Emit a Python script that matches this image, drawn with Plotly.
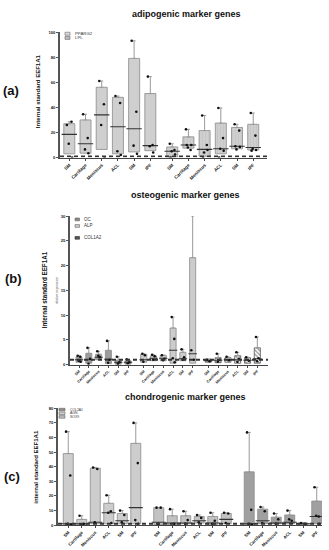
import plotly.graph_objects as go

W, H = 329, 550
FONT = "Liberation Sans, Arial, sans-serif"

# ---------------- data ----------------
sites = ["SM", "Cartilage", "Meniscus", "ACL", "SM", "IPF"]

# (a) adipogenic
pparg2_low = [3, 3.5, 6.5, 3, 4.5, 5.5]
pparg2_med = [18.5, 11, 34, 24.5, 23, 9.5]
pparg2_high = [27, 30, 56, 48, 79, 51]
pparg2_top = [28.5, 34.5, 61, 49, 93, 64.5]
pparg2_pts = [[26, 28.5, 11, 0], [34.5, 15.5, 6.5, 3.5], [61, 42.5, 26, 0],
              [49, 43.5, 5, 2], [93, 36.5, 9.5, 3], [64.5, 10, 9, 4]]

lpl_low = [0.5, 7.5, 1, 3, 7, 6]
lpl_med = [5, 10, 6.5, 7, 9, 8]
lpl_high = [8.5, 16.5, 21.5, 27.5, 24, 26.5]
lpl_top = [11, 22.5, 33.5, 39.5, 26.5, 35.5]
lpl_pts = [[11, 6, 5, 2.5, 0], [22.5, 6, 8, 10, 10], [33.5, 10, 4, 6, 0],
           [39.5, 15.5, 7, 5.5, 0], [26.5, 21.5, 6.5, 8.5, 9], [35.5, 17.5, 7, 6, 5.5]]

# (b) osteogenic
oc_low = [0.5, 0.3, 1.0, 0.2, 0.1, 0.1]
oc_med = [1.0, 1.0, 1.5, 1.1, 0.5, 0.5]
oc_high = [1.6, 2.3, 2.1, 2.9, 0.9, 0.8]
oc_top = [1.8, 3.4, 2.7, 4.8, 1.6, 1.1]
oc_pts = [[1.8, 1.6, 0.8, 0.6], [3.4, 1.2, 0.2], [2.7, 1.5, 1.8],
          [4.8, 1.0, 0.4], [1.6, 0.5, 0.2], [1.1, 0.5, 0.3]]

alp_low = [0.5, 0.8, 0.8, 0.3, 0.8, 0.3]
alp_med = [1.0, 1.3, 1.3, 2.9, 1.2, 2.2]
alp_high = [2.1, 1.8, 1.9, 7.4, 2.5, 21.6]
alp_top = [2.2, 2.0, 1.9, 9.6, 3.1, 30]
alp_pts = [[2.2, 1.9, 0.6], [2.0, 1.7, 1.0], [1.9, 1.2, 0.9],
           [9.6, 5.2, 1.3, 0.5], [3.1, 1.5, 1.0], [2.9, 1.0]]

col1a2_low = [0.5, 0.4, 0.5, 0.3, 0.3, 0.3]
col1a2_med = [0.8, 0.9, 1.0, 1.0, 0.9, 1.2]
col1a2_high = [1.1, 1.4, 1.4, 1.8, 1.4, 3.4]
col1a2_top = [1.1, 2.2, 1.6, 2.5, 1.5, 5.6]
col1a2_pts = [[1.0, 0.7], [2.2, 1.0, 0.6], [1.6, 0.9], [2.5, 1.2, 0.6],
              [1.5, 0.8], [5.6, 1.3, 0.7]]

# (c) chondrogenic
col2a1_low = [0.5, 0.5, 1, 1, 1, 1]
col2a1_med = [1, 1, 2, 8.5, 3, 12]
col2a1_high = [49, 4, 39, 15, 8, 56]
col2a1_top = [64, 6.5, 39.5, 20.5, 10, 70]
col2a1_pts = [[64, 34, 1, 0.5], [6.5, 1, 0.5], [39.5, 38.5, 2],
              [20.5, 9.5, 8.5, 1.5], [10, 7, 2], [70, 42.5, 3.5, 1]]

agn_low = [0.5, 0.5, 1, 1.5, 0.5, 1]
agn_med = [2, 1.5, 1.5, 3, 1.5, 4]
agn_high = [12, 6.5, 6.5, 6, 6, 8]
agn_top = [12, 11, 9.5, 7, 8.5, 8.5]
agn_pts = [[12, 12, 1], [11, 1], [9.5, 3.5, 1], [7, 5, 2], [8.5, 3, 1], [8.5, 8, 1.5]]

sox9_low = [0.5, 1, 1, 1, 0.5, 1]
sox9_med = [1, 3, 1.5, 2, 1, 6]
sox9_high = [36.5, 11, 5.5, 7, 1.5, 16.5]
sox9_top = [63.5, 12.5, 8, 10, 1.5, 26]
sox9_pts = [[63.5, 10.5, 1, 0.5], [12.5, 9.5, 1.5], [8, 4, 1], [10, 3, 4],
            [1.5, 1], [26, 6, 6.5, 1]]

y_ticks_a = [0, 20, 40, 60, 80, 100]
y_ticks_b = [0, 5, 10, 15, 20, 25, 30]
y_ticks_c = [0, 10, 20, 30, 40, 50, 60, 70, 80]
ref_level = 1

# ---------------- helpers ----------------
def px_x(p):
    return p / W

def px_y(p):
    return 1 - p / H

fig = go.Figure()
JIT = [-0.22, 0.2, -0.05, 0.26, -0.15]


def add_group(ax, offset, low, med, high, top, pts, width, fill, line_col="#8a8a8a",
              pattern=None, box_px=10):
    xs = [i + offset for i in range(len(low))]
    xa, ya = ("x" if ax == 1 else f"x{ax}"), ("y" if ax == 1 else f"y{ax}")
    marker = dict(color=fill, line=dict(color=line_col, width=0.8))
    if pattern:
        marker["pattern"] = pattern
    fig.add_trace(go.Bar(
        x=xs, y=[h - l for h, l in zip(high, low)], base=low, width=width,
        marker=marker, xaxis=xa, yaxis=ya, showlegend=False,
        error_y=dict(type="data", symmetric=False,
                     array=[t - h for t, h in zip(top, high)],
                     arrayminus=[0] * len(low), color="#9a9a9a",
                     thickness=1, width=1.5),
    ))
    fig.add_trace(go.Scatter(
        x=xs, y=med, mode="markers", xaxis=xa, yaxis=ya, showlegend=False,
        marker=dict(symbol="line-ew", size=box_px, line=dict(color="#333333", width=1.1)),
    ))
    px_, py_ = [], []
    for i, p in enumerate(pts):
        for j, v in enumerate(p):
            px_.append(xs[i] + JIT[j % len(JIT)] * width)
            py_.append(v)
    fig.add_trace(go.Scatter(
        x=px_, y=py_, mode="markers", xaxis=xa, yaxis=ya, showlegend=False,
        marker=dict(symbol="circle", size=2.6, color="#111111"),
    ))
    return xs


# ---------------- panel (a) ----------------
wa = 0.68
xa1 = add_group(1, 0, pparg2_low, pparg2_med, pparg2_high, pparg2_top, pparg2_pts,
                wa, "#cfcfcf", box_px=11)
xa2 = add_group(1, 6.35, lpl_low, lpl_med, lpl_high, lpl_top, lpl_pts, wa, "#cfcfcf",
                pattern=dict(shape="|", fgcolor="#b5b5b5", size=3, solidity=0.2), box_px=11)

# ---------------- panel (b) ----------------
wb = 0.62
xb1 = add_group(2, 0, oc_low, oc_med, oc_high, oc_top, oc_pts, wb, "#9c9c9c", box_px=6)
xb2 = add_group(2, 6.6, alp_low, alp_med, alp_high, alp_top, alp_pts, wb, "#cccccc", box_px=6)
xb3 = add_group(2, 13.2, col1a2_low, col1a2_med, col1a2_high, col1a2_top, col1a2_pts, wb,
                "#ffffff", line_col="#555555",
                pattern=dict(shape="\\", fgcolor="#333333", size=3, solidity=0.45), box_px=6)

# ---------------- panel (c) ----------------
wc = 0.74
xc1 = add_group(3, 0, col2a1_low, col2a1_med, col2a1_high, col2a1_top, col2a1_pts, wc,
                "#cdcdcd", box_px=10)
xc2 = add_group(3, 6.7, agn_low, agn_med, agn_high, agn_top, agn_pts, wc, "#c2c2c2", box_px=10)
xc3 = add_group(3, 13.4, sox9_low, sox9_med, sox9_high, sox9_top, sox9_pts, wc,
                "#a0a0a0", box_px=10)

# ---------------- axes ----------------
tickfont_x = dict(family=FONT, size=4.5, color="#222222", weight="bold")
tickfont_y = dict(family=FONT, size=4.2, color="#222222", weight="bold")


def xaxis_cfg(dom, rng, xs):
    return dict(domain=dom, range=rng, tickvals=xs, ticktext=sites * 3, tickangle=-45,
                tickfont=tickfont_x, showgrid=False, zeroline=False, showline=True,
                linecolor="#444444", linewidth=1, ticks="outside", ticklen=2,
                tickcolor="#444444", tickwidth=0.8)


def yaxis_cfg(dom, rng, ticks, anchor):
    return dict(domain=dom, range=rng, tickvals=ticks, ticktext=[str(t) for t in ticks],
                tickfont=tickfont_y, showgrid=False, zeroline=False, showline=True,
                linecolor="#555555", linewidth=1.5, ticks="outside", ticklen=2,
                tickcolor="#555555", tickwidth=0.8, anchor=anchor)


fig.update_layout(
    xaxis=xaxis_cfg([px_x(60), px_x(267)], [-0.574, 12.2], xa1 + xa2),
    yaxis=yaxis_cfg([px_y(156), px_y(29.3)], [0, 100], y_ticks_a, "x"),
    xaxis2=dict(xaxis_cfg([px_x(70), px_x(268)], [-0.92, 19.29], xb1 + xb2 + xb3), anchor="y2"),
    yaxis2=yaxis_cfg([px_y(365), px_y(215)], [0, 30], y_ticks_b, "x2"),
    xaxis3=dict(xaxis_cfg([px_x(58), px_x(322)], [-0.76, 18.79], xc1 + xc2 + xc3), anchor="y3"),
    yaxis3=yaxis_cfg([px_y(527), px_y(409)], [0, 80], y_ticks_c, "x3"),
)
fig.layout.xaxis.tickfont.size = 4.6
fig.layout.xaxis3.tickfont.size = 4.4
fig.layout.xaxis2.tickfont.size = 3.8

# dashed reference lines at relative expression 1
for xr, yr in [("x", "y"), ("x2", "y2"), ("x3", "y3")]:
    fig.add_shape(type="line", xref=f"{xr} domain", yref=yr, x0=0, x1=1,
                  y0=ref_level, y1=ref_level,
                  line=dict(color="#333333", width=1.8, dash="4px,3px"))

# ---------------- text ----------------
ann = []
def text(x, y, s, size, bold=False, angle=0, xanchor="center", color="#111111"):
    ann.append(dict(x=px_x(x), y=px_y(y), xref="paper", yref="paper", text=s,
                    showarrow=False, textangle=angle, xanchor=xanchor, yanchor="middle",
                    font=dict(family=FONT, size=size, color=color,
                              weight="bold" if bold else "normal")))

text(186, 11, "adipogenic marker genes", 9, bold=True)
text(185, 194, "osteogenic marker genes", 9, bold=True)
text(185, 398, "chondrogenic marker genes", 9, bold=True)

text(11, 88, "(a)", 13, bold=True)
text(13, 278, "(b)", 13, bold=True)
text(12, 478, "(c)", 13, bold=True)

text(38, 89, "Internal standard EEF1A1", 6, bold=True, angle=-90)
text(44, 290, "Internal standard EEF1A1", 6.3, bold=True, angle=-90)
text(57, 290, "relative expression", 3.3, angle=-90, color="#555555")
text(36, 468, "internal standard EEF1A1", 6, bold=True, angle=-90)

# legends (drawn as decoration)
shapes = []
def swatch(x0, y0, x1, y1, fill, line="#666666"):
    shapes.append(dict(type="rect", xref="paper", yref="paper",
                       x0=px_x(x0), x1=px_x(x1), y0=px_y(y1), y1=px_y(y0),
                       fillcolor=fill, line=dict(color=line, width=0.6)))

swatch(65, 29.5, 70, 32.5, "#dcdcdc")
text(72.5, 31, "PPARG2", 4.3, xanchor="left", color="#333333")
swatch(65, 33.7, 70, 36.7, "#bdbdbd")
text(72.5, 35.2, "LPL", 4.3, xanchor="left", color="#333333")

swatch(75, 217, 79.5, 219.8, "#8a8a8a")
text(81.5, 218.4, "OC", 4.5, xanchor="left", color="#333333")
swatch(75, 223.6, 79.5, 226.4, "#cccccc")
text(81.5, 225, "ALP", 4.5, xanchor="left", color="#333333")
swatch(75, 235.6, 79.5, 238.4, "#555555", line="#333333")
text(81.5, 237, "COL1A2", 4.5, xanchor="left", color="#333333")

swatch(59, 409, 65, 411.6, "#8f8f8f")
text(67.5, 410.3, "COL2A1", 3.4, xanchor="left", color="#333333")
swatch(59, 412.7, 65, 415.3, "#cfcfcf")
text(67.5, 414, "AGN", 3.4, xanchor="left", color="#333333")
swatch(59, 416.4, 65, 419, "#bdbdbd")
text(67.5, 417.7, "SOX9", 3.4, xanchor="left", color="#333333")

fig.update_layout(annotations=ann)
for s in shapes:
    fig.add_shape(**s)

fig.update_layout(
    width=W, height=H, margin=dict(l=0, r=0, t=0, b=0),
    paper_bgcolor="white", plot_bgcolor="white", barmode="overlay",
    showlegend=False, font=dict(family=FONT),
)

fig.write_html("out.html", config={"displayModeBar": False},
               post_script="document.body.style.margin='0';document.body.style.overflow='hidden';")
